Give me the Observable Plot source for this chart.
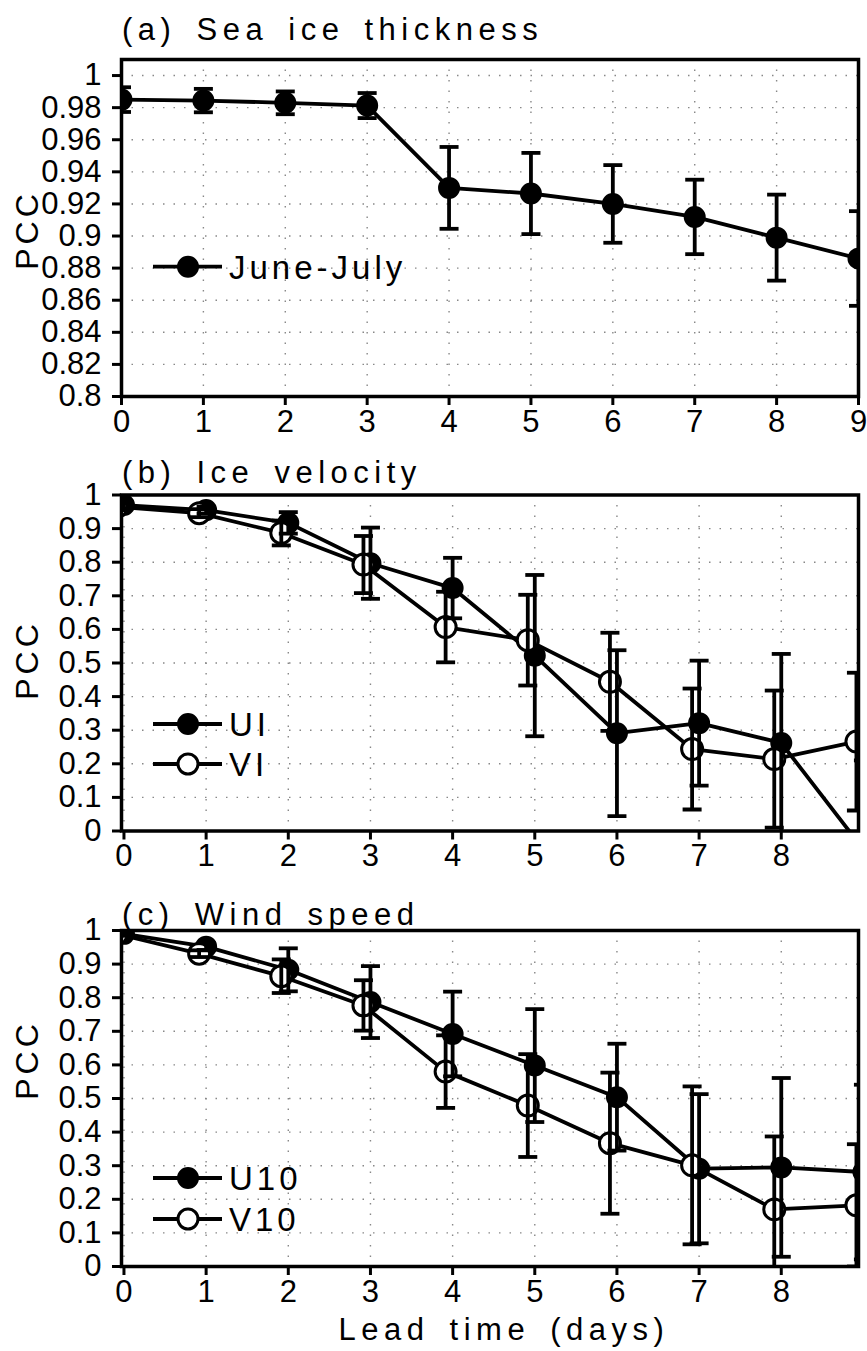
<!DOCTYPE html>
<html><head><meta charset="utf-8">
<script src="https://cdn.jsdelivr.net/npm/d3@7"></script>
<script src="https://cdn.jsdelivr.net/npm/@observablehq/plot@0.6"></script>
<style>
body{margin:0;background:#fff;}
#wrap{position:relative;width:867px;height:1351px;overflow:hidden;background:#fff;}
#wrap svg{position:absolute;left:0;}
</style></head><body><div id="wrap"></div>
<script>
// ---------- data ----------
const leadDays = [0, 1, 2, 3, 4, 5, 6, 7, 8, 9];

// (a) Sea ice thickness, June-July
const thickJJ    = [0.985, 0.9844, 0.983, 0.9813, 0.930, 0.9265, 0.920, 0.9119, 0.899, 0.886];
const thickJJErr = [0.0077, 0.0073, 0.0071, 0.0078, 0.0255, 0.0253, 0.0242, 0.0232, 0.0268, 0.0295];

// (b) Ice velocity
const ui    = [0.970, 0.955, 0.917, 0.797, 0.723, 0.522, 0.291, 0.321, 0.262, -0.055];
const uiErr = [0.010, 0.010, 0.032, 0.106, 0.090, 0.240, 0.247, 0.186, 0.265, 0.265];
const vi    = [0.965, 0.946, 0.887, 0.793, 0.607, 0.568, 0.444, 0.244, 0.214, 0.266];
const viErr = [0.010, 0.012, 0.037, 0.085, 0.105, 0.135, 0.146, 0.180, 0.204, 0.205];

// (c) Wind speed
const u10    = [0.990, 0.952, 0.883, 0.787, 0.692, 0.598, 0.504, 0.291, 0.295, 0.281];
const u10Err = [0.005, 0.010, 0.064, 0.107, 0.126, 0.168, 0.159, 0.222, 0.266, 0.260];
const v10    = [0.990, 0.931, 0.864, 0.777, 0.580, 0.479, 0.367, 0.301, 0.170, 0.182];
const v10Err = [0.005, 0.010, 0.050, 0.075, 0.108, 0.153, 0.210, 0.235, 0.217, 0.182];

// ticks & labels
const yTicksA  = [0.8, 0.82, 0.84, 0.86, 0.88, 0.9, 0.92, 0.94, 0.96, 0.98, 1];
const yTicksBC = [0, 0.1, 0.2, 0.3, 0.4, 0.5, 0.6, 0.7, 0.8, 0.9, 1];
const xTicksA  = [0, 1, 2, 3, 4, 5, 6, 7, 8, 9];
const xTicksBC = [0, 1, 2, 3, 4, 5, 6, 7, 8];
const titles   = ["(a) Sea ice thickness", "(b) Ice velocity", "(c) Wind speed"];
const yLabel   = "PCC";
const xLabel   = "Lead time (days)";
const legendA  = ["June-July"];
const legendB  = ["UI", "VI"];
const legendC  = ["U10", "V10"];

// ---------- drawing ----------
const FONT = "'Liberation Sans', Arial, sans-serif";
const capSymbol = {
  draw(ctx, size) { const r = Math.sqrt(size / Math.PI); ctx.moveTo(-r, 0); ctx.lineTo(r, 0); }
};
function rows(vals, errs) {
  return leadDays.map((d, i) => ({lead: d, v: vals[i], lo: vals[i] - errs[i], hi: vals[i] + errs[i]}));
}
function seriesMarks(data, filled, dx) {
  return {
    line: Plot.line(data, {x: "lead", y: "v", stroke: "black", strokeWidth: 3.8, clip: true, dx}),
    dots: Plot.dot(data, {x: "lead", y: "v", r: filled ? 9.5 : 10.5, fill: filled ? "black" : "white",
                          stroke: "black", strokeWidth: 3, clip: true, dx}),
    bars: [
      Plot.ruleX(data, {x: "lead", y1: "lo", y2: "hi", stroke: "black", strokeWidth: 3.8, clip: true, dx}),
      Plot.dot(data, {x: "lead", y: "lo", symbol: capSymbol, r: 9.5, stroke: "black", strokeWidth: 3.8, clip: true, dx}),
      Plot.dot(data, {x: "lead", y: "hi", symbol: capSymbol, r: 9.5, stroke: "black", strokeWidth: 3.8, clip: true, dx})
    ]
  };
}
function addText(s, x, y, str, size, ls, anchor) {
  return s.append("text").attr("x", x).attr("y", y).text(str)
    .attr("font-family", FONT).attr("font-size", size).attr("letter-spacing", ls).attr("word-spacing", 6)
    .attr("text-anchor", anchor || "start").attr("fill", "black").attr("stroke", "none");
}
function panel(cfg) {
  const ser = cfg.series.map(s => seriesMarks(rows(s.vals, s.errs), s.filled, s.dx));
  const grid = {stroke: "#888", strokeOpacity: 1, strokeWidth: 1.4, strokeDasharray: "1.5,9"};
  const svg = Plot.plot({
    width: 867, height: cfg.height,
    marginTop: cfg.mt, marginBottom: cfg.mb, marginLeft: 121, marginRight: 9,
    style: {fontFamily: FONT, fontSize: "31px", background: "transparent", color: "black", overflow: "visible"},
    x: {domain: cfg.xDomain},
    y: {domain: cfg.yDomain},
    marks: [
      Plot.gridX(cfg.xTicks, grid),
      Plot.gridY(cfg.yTicks, grid),
      ...ser.map(s => s.line),
      ...ser.map(s => s.dots),
      ...ser.flatMap(s => s.bars),
      Plot.axisY(cfg.yTicks, {tickSize: 9, tickPadding: 11, tickFormat: cfg.yFmt, strokeWidth: 3, label: null, fontSize: 31}),
      Plot.axisX(cfg.xTicks, {tickSize: 9, tickPadding: 4, tickFormat: d => String(d), strokeWidth: 3, label: null, fontSize: 31}),
      Plot.frame({stroke: "black", strokeWidth: 3.5})
    ]
  });
  svg.style.top = cfg.top + "px";
  const s = d3.select(svg);
  // force tick-label size on every text the library produced
  s.selectAll("g").filter(function() { return this.querySelector(":scope > text"); })
    .style("font-size", "31px").style("font-family", FONT);
  s.selectAll("text").style("font-size", "31px").style("font-family", FONT);
  addText(s, 122, cfg.titleY, cfg.title, 31, 5.5);
  s.append("text").attr("transform", `translate(38,${cfg.pccY}) rotate(-90)`).attr("text-anchor", "middle")
    .text(yLabel).attr("font-family", FONT).attr("font-size", 32).attr("letter-spacing", 4).attr("fill", "black");
  cfg.legend.forEach((lg, i) => {
    const y = cfg.legendY[i];
    s.append("line").attr("x1", 153).attr("x2", 222).attr("y1", y).attr("y2", y).attr("stroke", "black").attr("stroke-width", 3.8);
    s.append("circle").attr("cx", 188).attr("cy", y).attr("r", cfg.series[i].filled ? 9.5 : 10)
      .attr("fill", cfg.series[i].filled ? "black" : "white").attr("stroke", "black").attr("stroke-width", 3);
    addText(s, 229, y + 12, lg, 33, 4);
  });
  if (cfg.xlabel) addText(s, 504, cfg.xlabelY, cfg.xlabel, 31, 5.5, "middle");
  document.getElementById("wrap").appendChild(svg);
}

const fmt2 = d => String(+d.toFixed(2));
const fmt1 = d => String(+d.toFixed(1));

panel({top: 0, height: 440, mt: 59, mb: 44, xDomain: [0, 9], yDomain: [0.8, 1.01],
  yTicks: yTicksA, yFmt: fmt2, xTicks: xTicksA,
  series: [{vals: thickJJ, errs: thickJJErr, filled: true, dx: 0}],
  title: titles[0], titleY: 39.5, pccY: 230, legend: legendA, legendY: [266.7]});

panel({top: 440, height: 440, mt: 54.5, mb: 49.5, xDomain: [-0.03, 8.94], yDomain: [0, 1],
  yTicks: yTicksBC, yFmt: fmt1, xTicks: xTicksBC,
  series: [{vals: ui, errs: uiErr, filled: true, dx: 0}, {vals: vi, errs: viErr, filled: false, dx: -7}],
  title: titles[1], titleY: 43, pccY: 220, legend: legendB, legendY: [284, 324]});

panel({top: 880, height: 471, mt: 50, mb: 85, xDomain: [-0.03, 8.94], yDomain: [0, 1],
  yTicks: yTicksBC, yFmt: fmt1, xTicks: xTicksBC,
  series: [{vals: u10, errs: u10Err, filled: true, dx: 0}, {vals: v10, errs: v10Err, filled: false, dx: -7}],
  title: titles[2], titleY: 45, pccY: 180, legend: legendC, legendY: [298, 339],
  xlabel: xLabel, xlabelY: 460});
</script>
</body></html>
